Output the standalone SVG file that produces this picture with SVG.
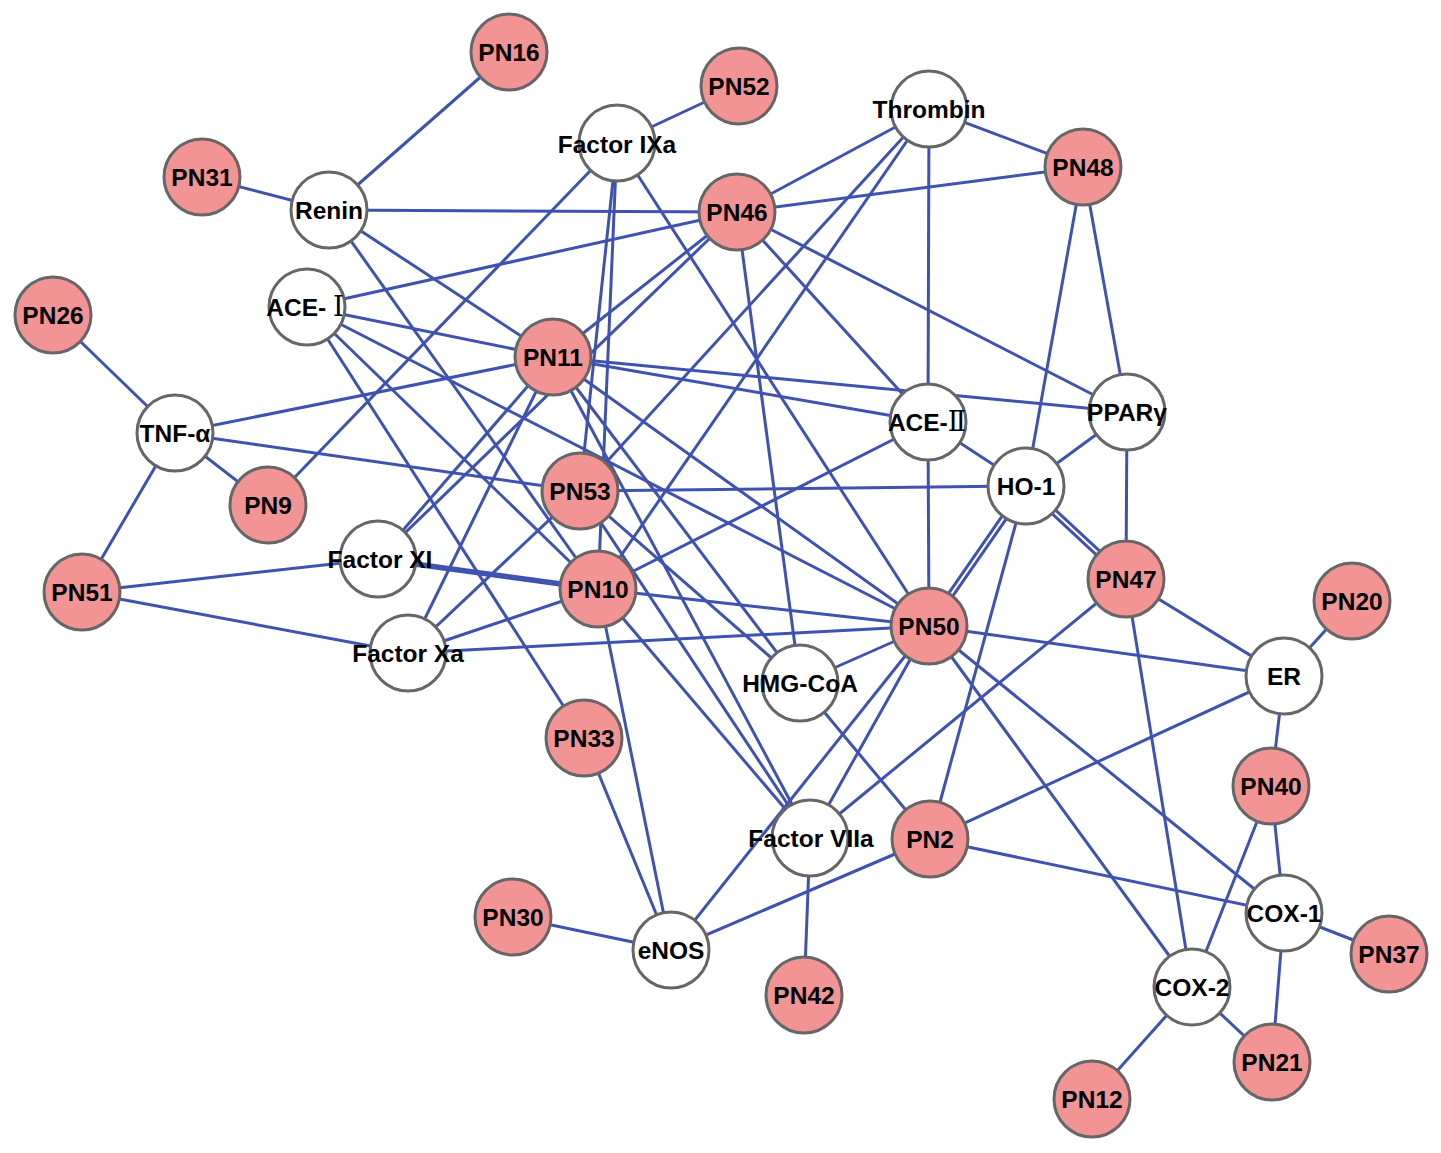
<svg xmlns="http://www.w3.org/2000/svg" width="1441" height="1153" viewBox="0 0 1441 1153">
<style>
.e{stroke:#4052b0;stroke-width:3;fill:none}
.n circle{stroke:#666;stroke-width:3}
.p circle{fill:#f29494}
.w circle{fill:#fff}
.n text{font-family:"Liberation Sans",Arial,sans-serif;font-weight:bold;font-size:24.5px;text-anchor:middle;fill:#000}
.r{font-family:"Liberation Serif","DejaVu Serif","Noto Sans CJK SC",serif;font-weight:normal;font-size:27px}
</style>
<rect width="1441" height="1153" fill="#fff"/>
<g id="edges" class="e">
<line x1="509" y1="52" x2="329" y2="210"/>
<line x1="202" y1="177" x2="329" y2="210"/>
<line x1="329" y1="210" x2="737" y2="212"/>
<line x1="329" y1="210" x2="553" y2="357"/>
<line x1="329" y1="210" x2="598" y2="589"/>
<line x1="617" y1="143" x2="739" y2="86"/>
<line x1="617" y1="143" x2="268" y2="505"/>
<line x1="617" y1="143" x2="580" y2="491"/>
<line x1="617" y1="143" x2="598" y2="589"/>
<line x1="617" y1="143" x2="929" y2="626"/>
<line x1="929" y1="109" x2="1083" y2="167"/>
<line x1="929" y1="109" x2="737" y2="212"/>
<line x1="929" y1="109" x2="580" y2="491"/>
<line x1="929" y1="109" x2="598" y2="589"/>
<line x1="929" y1="109" x2="928" y2="422"/>
<line x1="1083" y1="167" x2="737" y2="212"/>
<line x1="1083" y1="167" x2="1026" y2="486"/>
<line x1="1083" y1="167" x2="1127" y2="412"/>
<line x1="737" y1="212" x2="307" y2="307"/>
<line x1="737" y1="212" x2="553" y2="357"/>
<line x1="737" y1="212" x2="378" y2="559"/>
<line x1="737" y1="212" x2="800" y2="683"/>
<line x1="737" y1="212" x2="928" y2="422"/>
<line x1="737" y1="212" x2="1127" y2="412"/>
<line x1="53" y1="315" x2="175" y2="433"/>
<line x1="175" y1="433" x2="553" y2="357"/>
<line x1="175" y1="433" x2="580" y2="491"/>
<line x1="175" y1="433" x2="268" y2="505"/>
<line x1="175" y1="433" x2="82" y2="592"/>
<line x1="307" y1="307" x2="553" y2="357"/>
<line x1="307" y1="307" x2="929" y2="626"/>
<line x1="307" y1="307" x2="598" y2="589"/>
<line x1="307" y1="307" x2="584" y2="738"/>
<line x1="553" y1="357" x2="928" y2="422"/>
<line x1="553" y1="357" x2="1127" y2="412"/>
<line x1="553" y1="357" x2="929" y2="626"/>
<line x1="553" y1="357" x2="800" y2="683"/>
<line x1="553" y1="357" x2="810" y2="838"/>
<line x1="553" y1="357" x2="378" y2="559"/>
<line x1="553" y1="357" x2="408" y2="653"/>
<line x1="928" y1="422" x2="1026" y2="486"/>
<line x1="928" y1="422" x2="929" y2="626"/>
<line x1="928" y1="422" x2="598" y2="589"/>
<line x1="1127" y1="412" x2="1026" y2="486"/>
<line x1="1127" y1="412" x2="1126" y2="579"/>
<line x1="1026" y1="486" x2="580" y2="491"/>
<line x1="1028.05" y1="487.43" x2="931.05" y2="627.43"/>
<line x1="1023.95" y1="484.57" x2="926.95" y2="624.57"/>
<line x1="1024.3" y1="487.83" x2="1124.3" y2="580.83"/>
<line x1="1027.7" y1="484.17" x2="1127.7" y2="577.17"/>
<line x1="1026" y1="486" x2="930" y2="839"/>
<line x1="580" y1="491" x2="408" y2="653"/>
<line x1="580" y1="491" x2="800" y2="683"/>
<line x1="580" y1="491" x2="810" y2="838"/>
<line x1="82" y1="592" x2="378" y2="559"/>
<line x1="82" y1="592" x2="408" y2="653"/>
<line x1="377.8" y1="560.3" x2="597.8" y2="590.3"/>
<line x1="378.2" y1="557.7" x2="598.2" y2="587.7"/>
<line x1="408" y1="653" x2="598" y2="589"/>
<line x1="408" y1="653" x2="929" y2="626"/>
<line x1="598" y1="589" x2="929" y2="626"/>
<line x1="598" y1="589" x2="671" y2="950"/>
<line x1="598" y1="589" x2="810" y2="838"/>
<line x1="929" y1="626" x2="800" y2="683"/>
<line x1="929" y1="626" x2="810" y2="838"/>
<line x1="929" y1="626" x2="671" y2="950"/>
<line x1="929" y1="626" x2="1284" y2="676"/>
<line x1="929" y1="626" x2="1284" y2="913"/>
<line x1="929" y1="626" x2="1192" y2="987"/>
<line x1="800" y1="683" x2="930" y2="839"/>
<line x1="1126" y1="579" x2="1284" y2="676"/>
<line x1="1126" y1="579" x2="1192" y2="987"/>
<line x1="1126" y1="579" x2="810" y2="838"/>
<line x1="1284" y1="676" x2="1352" y2="601"/>
<line x1="1284" y1="676" x2="930" y2="839"/>
<line x1="1284" y1="676" x2="1271" y2="786"/>
<line x1="584" y1="738" x2="671" y2="950"/>
<line x1="810" y1="838" x2="804" y2="995"/>
<line x1="930" y1="839" x2="671" y2="950"/>
<line x1="930" y1="839" x2="1284" y2="913"/>
<line x1="513" y1="917" x2="671" y2="950"/>
<line x1="1271" y1="786" x2="1284" y2="913"/>
<line x1="1271" y1="786" x2="1192" y2="987"/>
<line x1="1284" y1="913" x2="1389" y2="954"/>
<line x1="1284" y1="913" x2="1272" y2="1062"/>
<line x1="1192" y1="987" x2="1272" y2="1062"/>
<line x1="1192" y1="987" x2="1092" y2="1099"/>
</g>
<g id="PN16" class="n p"><circle cx="509" cy="52" r="38"/><text x="509" y="61">PN16</text></g>
<g id="PN52" class="n p"><circle cx="739" cy="86" r="38"/><text x="739" y="95">PN52</text></g>
<g id="FactorIXa" class="n w"><circle cx="617" cy="143" r="38"/><text x="617" y="153">Factor IXa</text></g>
<g id="Thrombin" class="n w"><circle cx="929" cy="109" r="38"/><text x="929" y="118">Thrombin</text></g>
<g id="PN31" class="n p"><circle cx="202" cy="177" r="38"/><text x="202" y="186">PN31</text></g>
<g id="Renin" class="n w"><circle cx="329" cy="210" r="38"/><text x="329" y="219">Renin</text></g>
<g id="PN46" class="n p"><circle cx="737" cy="212" r="38"/><text x="737" y="221">PN46</text></g>
<g id="PN48" class="n p"><circle cx="1083" cy="167" r="38"/><text x="1083" y="176">PN48</text></g>
<g id="PN26" class="n p"><circle cx="53" cy="315" r="38"/><text x="53" y="324">PN26</text></g>
<g id="ACE-I" class="n w"><circle cx="307" cy="307" r="38"/><text x="305" y="316">ACE-<tspan class="r"> Ⅰ</tspan></text></g>
<g id="PN11" class="n p"><circle cx="553" cy="357" r="38"/><text x="553" y="366">PN11</text></g>
<g id="TNF-a" class="n w"><circle cx="175" cy="433" r="38"/><text x="175" y="442">TNF-α</text></g>
<g id="ACE-II" class="n w"><circle cx="928" cy="422" r="38"/><text x="927" y="431">ACE-<tspan class="r">Ⅱ</tspan></text></g>
<g id="PPARg" class="n w"><circle cx="1127" cy="412" r="38"/><text x="1127" y="421">PPARγ</text></g>
<g id="HO-1" class="n w"><circle cx="1026" cy="486" r="38"/><text x="1026" y="495">HO-1</text></g>
<g id="PN9" class="n p"><circle cx="268" cy="505" r="38"/><text x="268" y="514">PN9</text></g>
<g id="PN53" class="n p"><circle cx="580" cy="491" r="38"/><text x="580" y="500">PN53</text></g>
<g id="FactorXI" class="n w"><circle cx="378" cy="559" r="38"/><text x="380" y="568">Factor XI</text></g>
<g id="PN51" class="n p"><circle cx="82" cy="592" r="38"/><text x="82" y="601">PN51</text></g>
<g id="PN10" class="n p"><circle cx="598" cy="589" r="38"/><text x="598" y="598">PN10</text></g>
<g id="FactorXa" class="n w"><circle cx="408" cy="653" r="38"/><text x="408" y="662">Factor Xa</text></g>
<g id="PN47" class="n p"><circle cx="1126" cy="579" r="38"/><text x="1126" y="588">PN47</text></g>
<g id="PN50" class="n p"><circle cx="929" cy="626" r="38"/><text x="929" y="635">PN50</text></g>
<g id="HMG-CoA" class="n w"><circle cx="800" cy="683" r="38"/><text x="800" y="692">HMG-CoA</text></g>
<g id="ER" class="n w"><circle cx="1284" cy="676" r="38"/><text x="1284" y="685">ER</text></g>
<g id="PN20" class="n p"><circle cx="1352" cy="601" r="38"/><text x="1352" y="610">PN20</text></g>
<g id="PN33" class="n p"><circle cx="584" cy="738" r="38"/><text x="584" y="747">PN33</text></g>
<g id="PN40" class="n p"><circle cx="1271" cy="786" r="38"/><text x="1271" y="795">PN40</text></g>
<g id="FactorVIIa" class="n w"><circle cx="810" cy="838" r="38"/><text x="811" y="847">Factor VIIa</text></g>
<g id="PN2" class="n p"><circle cx="930" cy="839" r="38"/><text x="930" y="848">PN2</text></g>
<g id="COX-1" class="n w"><circle cx="1284" cy="913" r="38"/><text x="1284" y="922">COX-1</text></g>
<g id="PN30" class="n p"><circle cx="513" cy="917" r="38"/><text x="513" y="926">PN30</text></g>
<g id="eNOS" class="n w"><circle cx="671" cy="950" r="38"/><text x="671" y="959">eNOS</text></g>
<g id="PN37" class="n p"><circle cx="1389" cy="954" r="38"/><text x="1389" y="963">PN37</text></g>
<g id="PN42" class="n p"><circle cx="804" cy="995" r="38"/><text x="804" y="1004">PN42</text></g>
<g id="COX-2" class="n w"><circle cx="1192" cy="987" r="38"/><text x="1192" y="996">COX-2</text></g>
<g id="PN21" class="n p"><circle cx="1272" cy="1062" r="38"/><text x="1272" y="1071">PN21</text></g>
<g id="PN12" class="n p"><circle cx="1092" cy="1099" r="38"/><text x="1092" y="1108">PN12</text></g>
</svg>
